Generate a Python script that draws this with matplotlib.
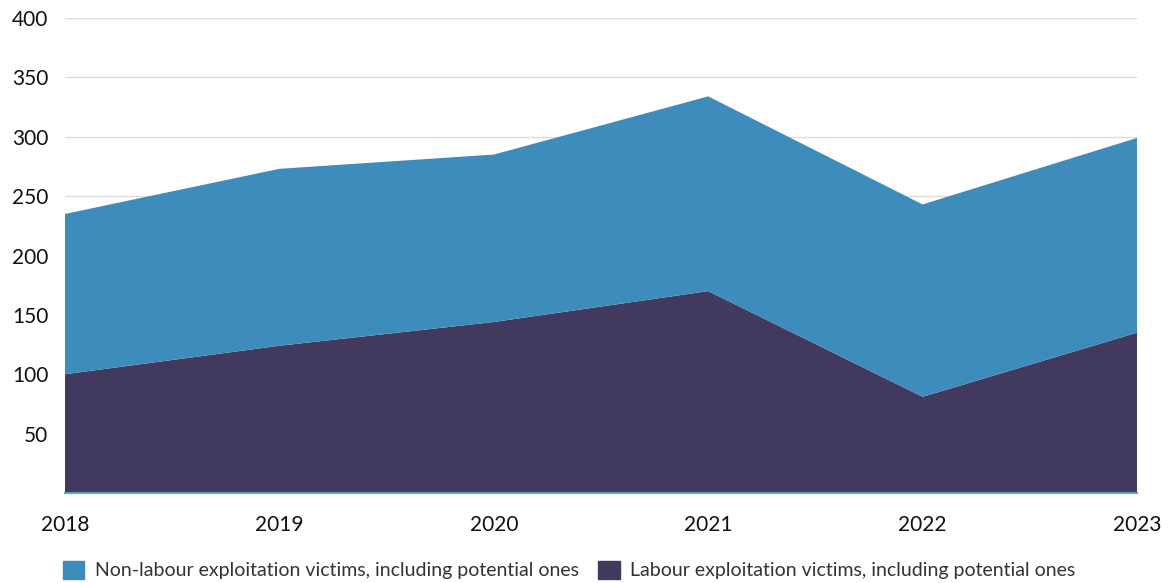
import matplotlib.pyplot as plt
import numpy as np

years = [2018, 2019, 2020, 2021, 2022, 2023]
labour = [100, 124, 144, 170, 81, 135]
non_labour = [135, 149, 141, 164, 162, 164]

blue = "#3e8cbb"
dark = "#413a5e"

plt.rcParams["font.family"] = ["Lato", "DejaVu Sans"]

fig = plt.figure(figsize=(11.69, 5.83), dpi=100)
ax = fig.add_axes([65 / 1169, 1 - 493 / 583, (1137 - 65) / 1169, (493 - 18) / 583])

ax.stackplot(years, labour, non_labour,
             colors=[dark, blue], linewidth=0)

ax.set_xlim(2018, 2023)
ax.set_ylim(0, 400)
ax.set_yticks(np.arange(50, 401, 50))
ax.set_xticks(years)
ax.grid(axis="y", color="#dddddd", linewidth=1)
ax.set_axisbelow(True)
for sp in ["top", "right", "left"]:
    ax.spines[sp].set_visible(False)
ax.spines["bottom"].set_color("#5c9fc8")
ax.spines["bottom"].set_linewidth(1.5)
ax.spines["bottom"].set_zorder(5)
ax.tick_params(length=0, labelsize=15, colors="#111111")
ax.tick_params(axis="x", pad=16)
ax.tick_params(axis="y", pad=12)

handles = [plt.Rectangle((0, 0), 1, 1, color=blue),
           plt.Rectangle((0, 0), 1, 1, color=dark)]
labels = ["Non-labour exploitation victims, including potential ones",
          "Labour exploitation victims, including potential ones"]
leg = fig.legend(handles, labels, loc="center", bbox_to_anchor=(0.487, 1 - 570 / 583),
                 ncol=2, frameon=False, fontsize=14, handlelength=1.1,
                 handleheight=1.1, handletextpad=0.55, columnspacing=1.0)
for t in leg.get_texts():
    t.set_color("#333333")

fig.savefig("out.png", dpi=100)
